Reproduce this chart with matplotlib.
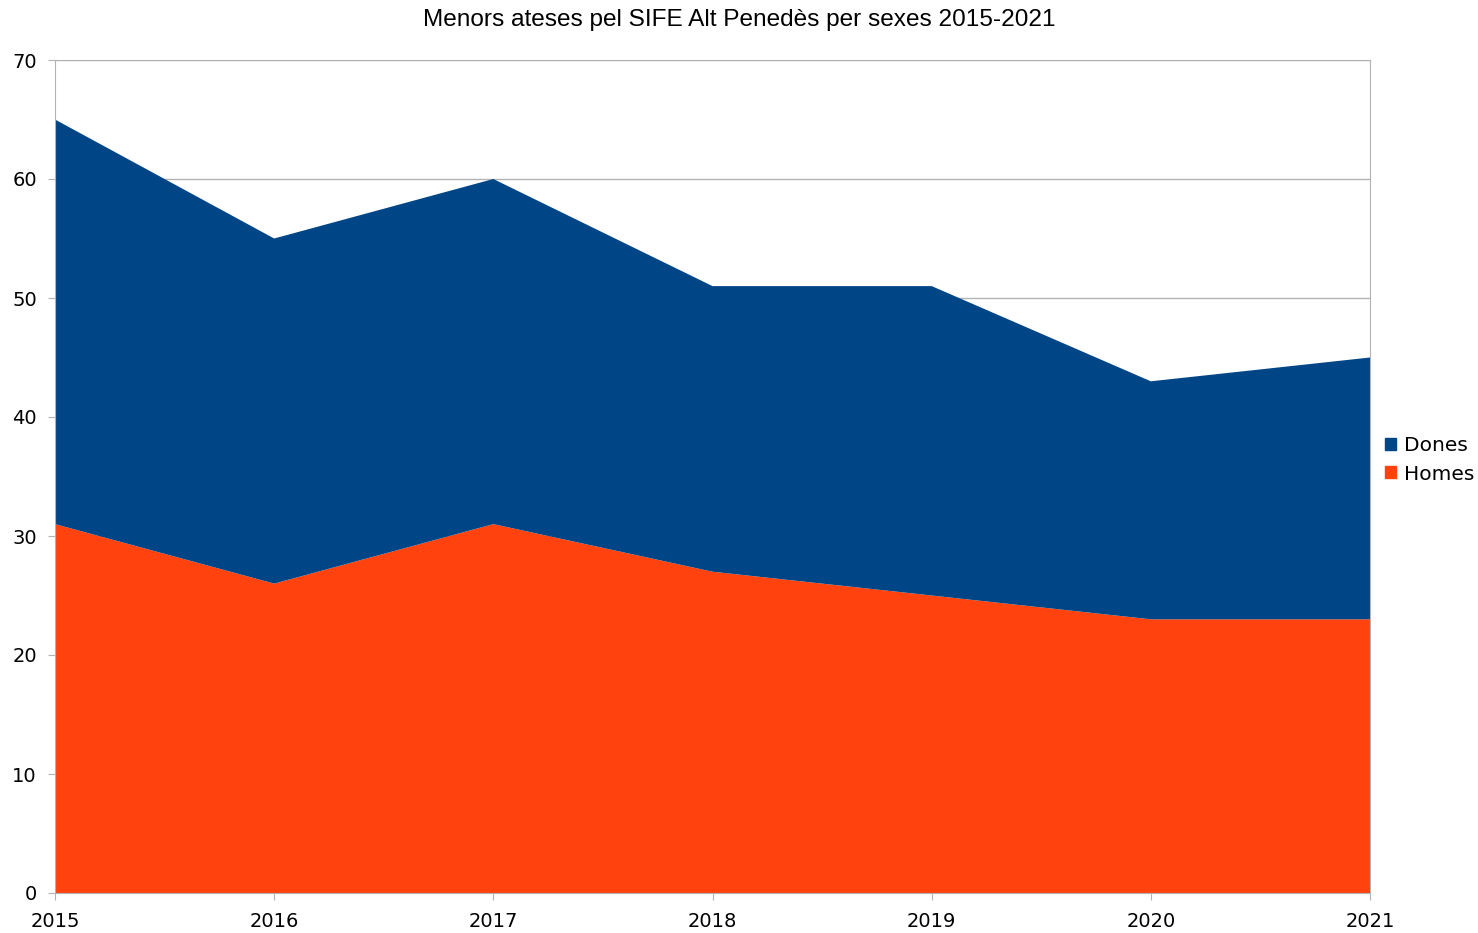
import numpy as np
import matplotlib.pyplot as plt
from matplotlib.patches import Patch

plt.rcParams['font.family'] = ['DejaVu Sans']

anys = [2015, 2016, 2017, 2018, 2019, 2020, 2021]
homes = [31, 26, 31, 27, 25, 23, 23]
dones = [34, 29, 29, 24, 26, 20, 22]

blau = '#004586'
taronja = '#ff420e'
gris = '#b3b3b3'

fig = plt.figure(figsize=(14.78, 9.33), dpi=100)
ax = fig.add_axes([55/1478, 1-893/933, (1370-55)/1478, (893-60)/933])

ax.stackplot(anys, homes, dones, colors=[taronja, blau], linewidth=0)

ax.set_xlim(2015, 2021)
ax.set_ylim(0, 70)
ax.set_yticks(np.arange(0, 71, 10))
ax.set_xticks(anys)
ax.grid(axis='y', color=gris, linewidth=1)
ax.set_axisbelow(True)
for s in ax.spines.values():
    s.set_color(gris)
ax.tick_params(colors=gris, labelcolor='black', labelsize=14, length=5)
ax.tick_params(axis='x', pad=9)
ax.tick_params(axis='y', pad=8)

fig.text(0.5, 1-20/933, 'Menors ateses pel SIFE Alt Penedès per sexes 2015-2021',
         ha='center', va='center', fontsize=17.6, family='Liberation Sans')

handles = [Patch(color=blau, label='Dones'), Patch(color=taronja, label='Homes')]
fig.legend(handles=handles, loc='center left', bbox_to_anchor=(1385/1478, 1-460/933),
           frameon=False, fontsize=14.5, handlelength=0.55, handleheight=0.55,
           handletextpad=0.4, labelspacing=0.45, borderpad=0, borderaxespad=0)

fig.savefig('out.png', dpi=100)
